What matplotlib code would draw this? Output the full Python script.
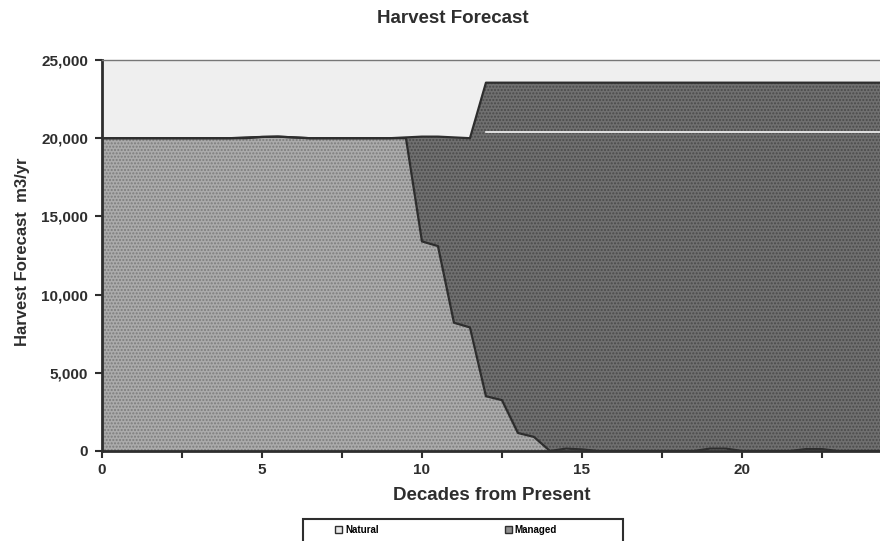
import matplotlib.pyplot as plt
from matplotlib.patches import Patch, Rectangle
import numpy as np

plt.rcParams['font.family'] = ['Liberation Sans', 'DejaVu Sans']
plt.rcParams['font.weight'] = 'bold'
plt.rcParams['hatch.linewidth'] = 1.0

# decades from present, one point every half decade
decades = np.arange(0, 25.5, 0.5)

natural = [20000, 20000, 20000, 20000, 20000, 20000, 20000, 20000, 20000, 20000,
           20080, 20100, 20050, 20000, 20000, 20000, 20000, 20000, 20000, 20000,
           13400, 13100, 8200, 7900, 3500, 3250, 1150, 900, 0, 150,
           100, 0, 0, 0, 0, 0, 0, 0, 150, 150,
           0, 0, 0, 0, 120, 120, 0, 0, 0, 0, 0]

managed = [0, 0, 0, 0, 0, 0, 0, 0, 0, 50,
           0, 0, 0, 0, 0, 0, 0, 0, 0, 50,
           6700, 7000, 11850, 12100, 20050, 20300, 22400, 22650, 23550, 23400,
           23450, 23550, 23550, 23550, 23550, 23550, 23550, 23550, 23400, 23400,
           23550, 23550, 23550, 23550, 23430, 23430, 23550, 23550, 23550, 23550, 23550]

# level of the thin light line running across the managed band
split_level = 20400
split_from = 12

natural = np.array(natural)
total = natural + np.array(managed)

dark = '#2e2e2e'
nat_color = '#ababab'
man_color = '#707070'

fig = plt.figure(figsize=(8.8, 5.41), dpi=100)
ax = fig.add_axes([0.1159, 0.1664, 0.909, 0.7227])
ax.set_facecolor('#efefef')

# stippled fills
ax.fill_between(decades, 0, natural, facecolor=nat_color, edgecolor='#7c7c7c',
                hatch='.....', linewidth=0)
ax.fill_between(decades, natural, total, facecolor=man_color, edgecolor='#4a4a4a',
                hatch='.....', linewidth=0)
ax.plot(decades, natural, color=dark, linewidth=1.6)
ax.plot(decades, total, color=dark, linewidth=1.6)
mask = decades >= split_from
ax.plot(decades[mask], np.full(mask.sum(), split_level), color='#f4f4f4', linewidth=1.2)

ax.set_xlim(0, 25)
ax.set_ylim(0, 25000)
ax.set_xticks(np.arange(0, 25.1, 2.5))
ax.set_xticklabels(['0', '', '5', '', '10', '', '15', '', '20', '', ''])
ax.set_yticks(np.arange(0, 25001, 5000))
ax.set_yticklabels(['{:,}'.format(v) for v in range(0, 25001, 5000)])
ax.tick_params(axis='both', labelsize=11, width=1.5, length=5, color=dark,
               labelcolor=dark)
ax.tick_params(axis='x', pad=4)
ax.tick_params(axis='y', pad=5)

for side in ['left', 'bottom']:
    ax.spines[side].set_linewidth(2)
    ax.spines[side].set_color(dark)
ax.spines['top'].set_color('#777777')
ax.spines['top'].set_linewidth(1)
ax.spines['right'].set_visible(False)

ax.set_xlabel('Decades from Present', fontsize=13.5, fontweight='bold', color=dark)
ax.xaxis.set_label_coords(0.4875, -0.093)
ax.set_ylabel('Harvest Forecast  m3/yr', fontsize=12, fontweight='bold', color=dark)
ax.yaxis.set_label_coords(-0.09, 0.51)
fig.text(0.515, 0.966, 'Harvest Forecast', ha='center', va='center', fontsize=13.5,
         color=dark, fontweight='bold')

handles = [Patch(facecolor='#e8e8e8', edgecolor=dark, linewidth=1, label='Natural'),
           Patch(facecolor='#909090', edgecolor=dark, linewidth=1, label='Managed')]
fig.legend(handles=handles, loc='center', bbox_to_anchor=(0.507, 0.0203, 0, 0),
           ncol=2, fontsize=7, frameon=False, handlelength=0.7, handleheight=0.7,
           columnspacing=13, handletextpad=0.3)
fig.add_artist(Rectangle((0.344, -0.01), 0.364, 0.051, transform=fig.transFigure,
                         fill=False, edgecolor=dark, linewidth=1.5))

fig.savefig('out.png', dpi=100)
